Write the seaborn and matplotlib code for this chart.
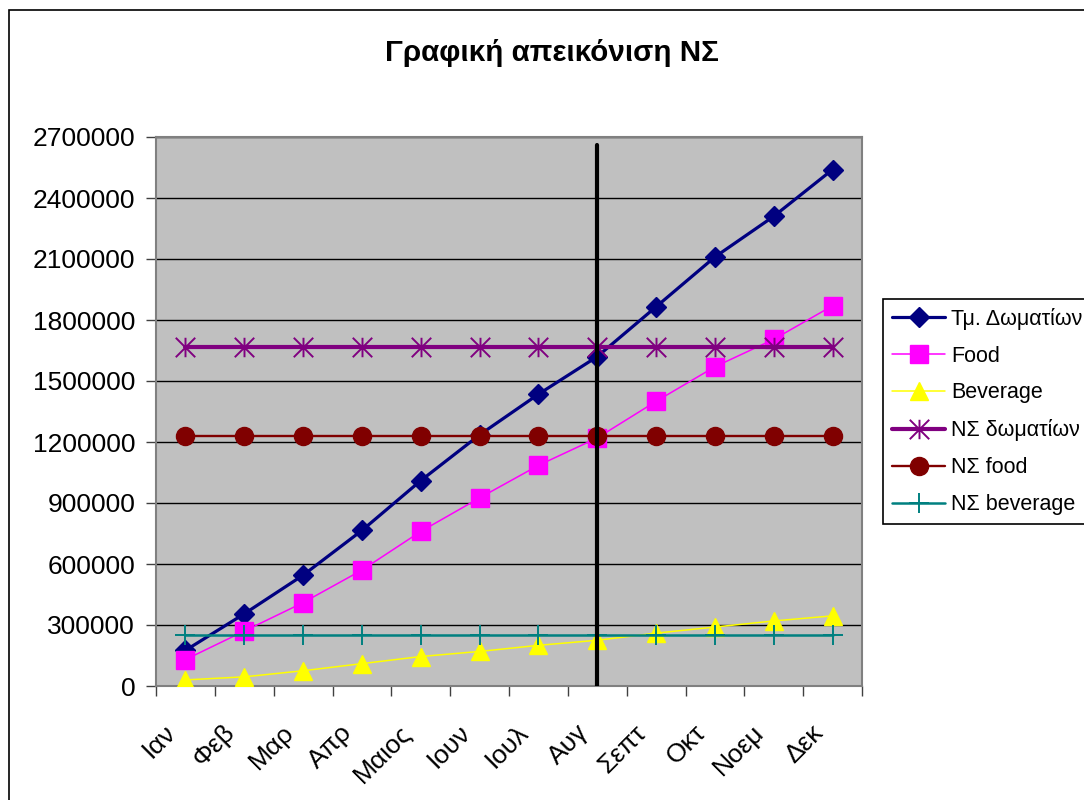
import numpy as np
import pandas as pd
import matplotlib
matplotlib.use("Agg")
import matplotlib.pyplot as plt
import seaborn as sns
from matplotlib.path import Path
from matplotlib.patches import Rectangle
from matplotlib.ticker import FixedLocator, FuncFormatter, NullFormatter

# ---------------- data ----------------
months = ["Ιαν", "Φεβ", "Μαρ", "Απρ", "Μαιος", "Ιουν", "Ιουλ", "Αυγ",
          "Σεπτ", "Οκτ", "Νοεμ", "Δεκ"]
rooms = [175000, 355000, 545000, 765000, 1010000, 1235000, 1435000,
         1620000, 1865000, 2110000, 2310000, 2540000]
food = [130000, 270000, 410000, 570000, 760000, 925000, 1085000,
        1220000, 1400000, 1570000, 1705000, 1870000]
beverage = [30000, 45000, 75000, 110000, 145000, 170000, 200000,
            225000, 260000, 290000, 320000, 345000]
bep_rooms = [1665000] * 12
bep_food = [1230000] * 12
bep_beverage = [250000] * 12
series_labels = ["Τμ. Δωματίων", "Food", "Beverage",
                 "ΝΣ δωματίων", "ΝΣ food", "ΝΣ beverage"]
marker_month = "Αυγ"
yticks = [0, 300000, 600000, 900000, 1200000, 1500000, 1800000,
          2100000, 2400000, 2700000]
title = "Γραφική απεικόνιση ΝΣ"

# ---------------- style ----------------
sns.set_theme(style="white")
plt.rcParams['font.family'] = ['Liberation Sans', 'DejaVu Sans']
plt.rcParams['text.color'] = 'black'
plt.rcParams['xtick.color'] = 'black'
plt.rcParams['ytick.color'] = 'black'
plt.rcParams['axes.labelcolor'] = 'black'

W, H = 1084, 800
fig = plt.figure(figsize=(W / 100, H / 100), dpi=100)
L, R, T, B = 156, 862, 137, 686
ax = fig.add_axes([L / W, 1 - B / H, (R - L) / W, (B - T) / H])
ax.set_facecolor('#C0C0C0')

x = np.arange(len(months))

asterisk = Path([(0, -1), (0, 1), (-1, -1), (1, 1), (-1, 1), (1, -1)],
                [Path.MOVETO, Path.LINETO, Path.MOVETO, Path.LINETO,
                 Path.MOVETO, Path.LINETO])

specs = [
    (rooms, '#000080', 'D', 10, 2.3, 1.0, 4),
    (food, '#FF00FF', 's', 12.5, 1.1, 1.0, 4),
    (beverage, '#FFFF00', '^', 13, 1.1, 1.0, 4),
    (bep_rooms, '#800080', asterisk, 14, 3.0, 1.4, 5),
    (bep_food, '#800000', 'o', 13, 1.7, 1.0, 5),
    (bep_beverage, '#008080', '+', 14, 1.8, 1.4, 5),
]
for (vals, col, mk, ms, lw, mew, z), lab in zip(specs, series_labels):
    sns.lineplot(x=x, y=vals, ax=ax, color=col, marker=mk, markersize=ms,
                 linewidth=lw, markeredgecolor=col, markerfacecolor=col,
                 markeredgewidth=mew, label=lab, zorder=z)

# vertical marker line
ax.axvline(months.index(marker_month), ymin=0, ymax=0.985, color='black',
           linewidth=3, zorder=10)

# axes
ax.set_xlim(-0.5, len(months) - 0.5)
ax.set_ylim(yticks[0], yticks[-1])
ax.set_yticks(yticks)
ax.yaxis.set_major_formatter(FuncFormatter(lambda v, p: f"{int(v)}"))
ax.yaxis.grid(True, color='black', linewidth=1.0)
ax.xaxis.grid(False)
ax.set_axisbelow(True)

ax.xaxis.set_major_locator(FixedLocator(np.arange(-0.5, len(months), 1)))
ax.xaxis.set_major_formatter(NullFormatter())
# labels sit slightly left of the category centre, as in the original
ax.xaxis.set_minor_locator(FixedLocator(x - 0.08))
ax.set_xticklabels(months, minor=True)
ax.tick_params(axis='x', which='major', direction='out', length=7,
               width=1, color='#404040', bottom=True)
ax.tick_params(axis='x', which='minor', length=0, pad=37, labelsize=19,
               bottom=True)
for lbl in ax.get_xticklabels(minor=True):
    lbl.set_rotation(45)
    lbl.set_ha('right')
    lbl.set_va('bottom')
    lbl.set_rotation_mode('anchor')
ax.tick_params(axis='y', direction='out', length=7, width=1,
               color='#404040', pad=8, labelsize=19, left=True)
ax.set_xlabel('')
ax.set_ylabel('')
for s in ax.spines.values():
    s.set_color('#808080')
    s.set_linewidth(1.5)

# legend
leg = ax.legend(loc='upper left', bbox_to_anchor=(883 / W, 1 - 299 / H),
                bbox_transform=fig.transFigure, frameon=True, fancybox=False,
                edgecolor='black', facecolor='white', framealpha=1,
                fontsize=15.5, handlelength=2.5, handletextpad=0.28,
                labelspacing=0.74, borderpad=0.4, borderaxespad=0)
leg.get_frame().set_linewidth(1.2)

# title
fig.text(552 / W, 1 - 53 / H, title, ha='center', va='center',
         fontsize=21.3, fontweight='bold')

# outer chart frame
fig.add_artist(Rectangle((9 / W, -0.1), 2, 1.1 - 10 / H, fill=False,
                         edgecolor='black', linewidth=1.2,
                         transform=fig.transFigure))

fig.savefig('out.png', dpi=100, facecolor='white')
